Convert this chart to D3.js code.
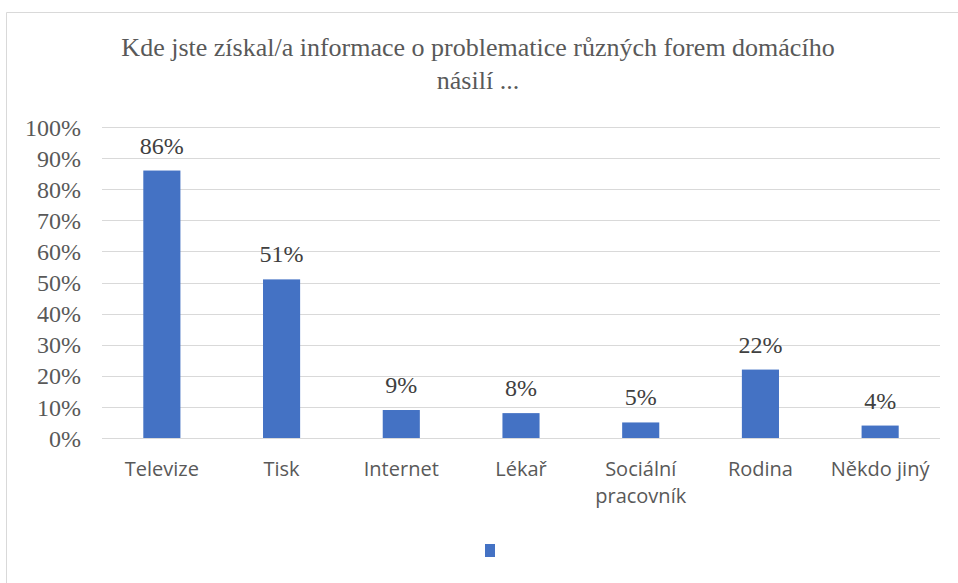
<!DOCTYPE html>
<html><head><meta charset="utf-8">
<script src="https://cdn.jsdelivr.net/npm/d3@7"></script>
<style>body{margin:0;background:#fff}svg{display:block}</style>
</head><body>
<svg id="c" width="958" height="583"></svg>
<script>
const categories = ["Televize","Tisk","Internet","Lékař","Sociální pracovník","Rodina","Někdo jiný"];
const values = [0.86,0.51,0.09,0.08,0.05,0.22,0.04];
const dataLabels = ["86%","51%","9%","8%","5%","22%","4%"];
const yTicks = [0,0.1,0.2,0.3,0.4,0.5,0.6,0.7,0.8,0.9,1.0];
const titleLines = ["Kde jste získal/a informace o problematice různých forem domácího","násilí ..."];

const SERIF = '"Liberation Serif"';
const SANS = '"Open Sans"';

const svg = d3.select("#c");
svg.append("rect").attr("x",0).attr("y",0).attr("width",958).attr("height",583).attr("fill","#fff");
svg.append("path").attr("d","M6.5,600 V12.5 H970").attr("fill","none").attr("stroke","#d9d9d9").attr("stroke-width",1);

const x = d3.scaleBand().domain(categories).range([102,940]).paddingInner(0.69).paddingOuter(0.345);
const y = d3.scaleLinear().domain([0,1]).range([438,127]);

svg.append("g").selectAll("line").data(yTicks).join("line")
  .attr("x1",102).attr("x2",940).attr("y1",d=>Math.round(y(d))+0.5).attr("y2",d=>Math.round(y(d))+0.5)
  .attr("stroke","#d9d9d9").attr("stroke-width",1);

const yAxis = d3.axisLeft(y).tickValues(yTicks).tickFormat(d3.format(".0%")).tickSize(0).tickPadding(0);
const yg = svg.append("g").attr("transform","translate(81,0)").call(yAxis);
yg.select(".domain").remove();
yg.selectAll("text").style("font-family",SERIF).style("font-size","24px").attr("fill","#595959").attr("dy","0.34em");

svg.append("g").selectAll("rect").data(categories).join("rect")
  .attr("x",d=>x(d)).attr("width",x.bandwidth())
  .attr("y",(d,i)=>y(values[i])).attr("height",(d,i)=>y(0)-y(values[i]))
  .attr("fill","#4472c4");

svg.append("g").selectAll("text").data(categories).join("text")
  .attr("x",d=>x(d)+x.bandwidth()/2).attr("y",(d,i)=>y(values[i])-17)
  .attr("text-anchor","middle").style("font-family",SERIF).style("font-size","24px").attr("fill","#404040")
  .text((d,i)=>dataLabels[i]);

const xg = svg.append("g");
categories.forEach(c=>{
  const t = xg.append("text").attr("y",476)
    .attr("text-anchor","middle").style("font-family",SANS).style("font-size","20px").attr("fill","#595959");
  const words = c === "Sociální pracovník" ? ["Sociální","pracovník"] : [c];
  words.forEach((w,i)=>t.append("tspan").attr("x",x(c)+x.bandwidth()/2).attr("dy",i?27:0).text(w));
});

const tt = svg.append("text").attr("text-anchor","middle").style("font-family",SERIF).style("font-size","26px").attr("fill","#595959");
titleLines.forEach((l,i)=>tt.append("tspan").attr("x",478).attr("y",56+i*33).text(l));

svg.append("rect").attr("x",485).attr("y",544).attr("width",10).attr("height",13).attr("fill","#4472c4");
</script>
</body></html>
